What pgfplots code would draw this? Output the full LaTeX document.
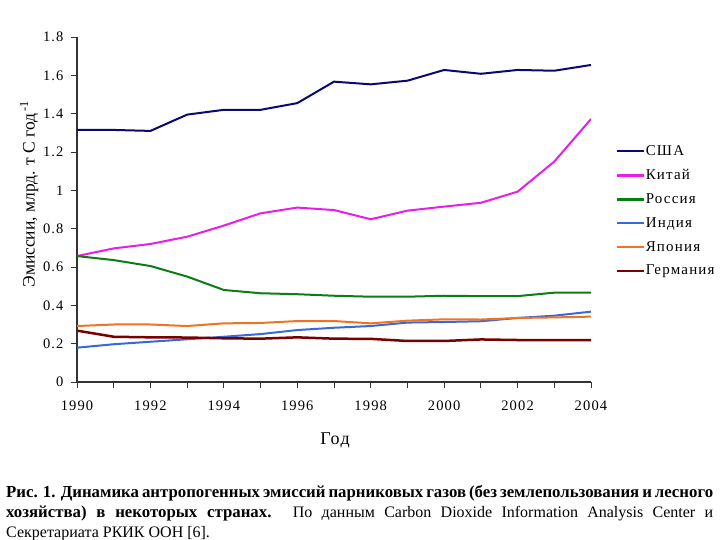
\documentclass[border=0pt]{standalone}
\usepackage{fontspec}
\setmainfont{Liberation Serif}
\newfontfamily\widefont[LetterSpace=8]{Liberation Serif}
\usepackage{pgfplots}
\pgfplotsset{compat=1.18}
\definecolor{cusa}{RGB}{10,10,110}
\definecolor{cchina}{RGB}{230,30,230}
\definecolor{crussia}{RGB}{10,125,20}
\definecolor{cindia}{RGB}{55,105,215}
\definecolor{cjapan}{RGB}{240,115,35}
\definecolor{cgermany}{RGB}{120,0,0}
\begin{document}
\begin{tikzpicture}
\path[use as bounding box] (0,0) rectangle (720pt,540pt);
\begin{axis}[
  at={(77pt,158pt)}, anchor=south west,
  scale only axis, width=514pt, height=345pt,
  xmin=1990, xmax=2004, ymin=0, ymax=1.8,
  axis lines*=left,
  axis line style={line width=1.2pt, black!80},
  tick align=outside, major tick length=6pt,
  tick style={line width=0.9pt, black!80},
  xtick={1990,...,2004},
  xticklabels={1990,,1992,,1994,,1996,,1998,,2000,,2002,,2004},
  ytick={0,0.2,...,1.8},
  yticklabels={0,0.2,0.4,0.6,0.8,1,1.2,1.4,1.6,1.8},
  ticklabel style={font=\widefont\fontsize{14.5}{16}\selectfont},
  xticklabel style={yshift=-9pt},
  yticklabel style={xshift=-4pt},
  xlabel={Год},
  xlabel style={at={(rel axis cs:0.502,-0.168)}, anchor=center, font=\widefont\fontsize{18}{20}\selectfont},
  ylabel={Эмиссии, млрд. т С год\textsuperscript{\,-1}},
  ylabel style={at={(rel axis cs:-0.093,0.545)}, anchor=center, rotate=0, font=\fontsize{17.5}{20}\selectfont},
  legend style={at={(rel axis cs:1.047,0.689)}, anchor=north west, draw=none, fill=none,
    font=\widefont\fontsize{15}{17}\selectfont, row sep=10.5pt, inner sep=0pt,
    nodes={inner sep=1pt}},
  legend cell align=left,
  legend image code/.code={\draw[#1, line width=2.4pt] (0pt,0pt) -- (27pt,0pt);},
  every axis plot/.append style={line width=2pt},
]
\addplot[cusa] coordinates {(1990,1.315) (1991,1.315) (1992,1.31) (1993,1.395) (1994,1.42) (1995,1.42) (1996,1.455) (1997,1.567) (1998,1.553) (1999,1.572) (2000,1.628) (2001,1.608) (2002,1.628) (2003,1.624) (2004,1.654)};
\addlegendentry{США}
\addplot[cchina] coordinates {(1990,0.657) (1991,0.697) (1992,0.72) (1993,0.758) (1994,0.816) (1995,0.88) (1996,0.91) (1997,0.897) (1998,0.849) (1999,0.894) (2000,0.915) (2001,0.935) (2002,0.993) (2003,1.15) (2004,1.372)};
\addlegendentry{Китай}
\addplot[crussia] coordinates {(1990,0.657) (1991,0.636) (1992,0.605) (1993,0.55) (1994,0.48) (1995,0.463) (1996,0.458) (1997,0.45) (1998,0.445) (1999,0.445) (2000,0.45) (2001,0.448) (2002,0.448) (2003,0.466) (2004,0.466)};
\addlegendentry{Россия}
\addplot[cindia] coordinates {(1990,0.179) (1991,0.197) (1992,0.21) (1993,0.223) (1994,0.236) (1995,0.25) (1996,0.271) (1997,0.283) (1998,0.292) (1999,0.31) (2000,0.313) (2001,0.317) (2002,0.334) (2003,0.346) (2004,0.367)};
\addlegendentry{Индия}
\addplot[cjapan] coordinates {(1990,0.292) (1991,0.3) (1992,0.3) (1993,0.292) (1994,0.306) (1995,0.308) (1996,0.318) (1997,0.318) (1998,0.306) (1999,0.32) (2000,0.327) (2001,0.326) (2002,0.334) (2003,0.337) (2004,0.341)};
\addlegendentry{Япония}
\addplot[cgermany, line width=2.5pt] coordinates {(1990,0.268) (1991,0.236) (1992,0.233) (1993,0.232) (1994,0.228) (1995,0.226) (1996,0.233) (1997,0.226) (1998,0.225) (1999,0.214) (2000,0.214) (2001,0.222) (2002,0.219) (2003,0.219) (2004,0.219)};
\addlegendentry{Германия}
\end{axis}
\node[anchor=north west, text width=707pt, align=justify, inner sep=0pt,
  font=\fontsize{16}{20}\selectfont] at (6pt,55pt)
  {{\fontsize{16.8}{20}\selectfont\bfseries Рис. 1. Динамика антропогенных эмиссий парниковых газов (без землепользования и~лесного\linebreak хозяйства) в некоторых странах.} По данным Carbon Dioxide Information Analysis Center и\linebreak Секретариата РКИК ООН [6].};
\end{tikzpicture}
\end{document}
